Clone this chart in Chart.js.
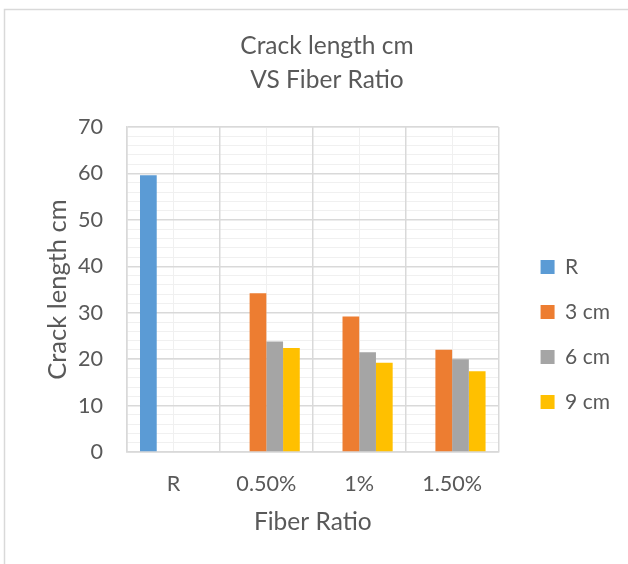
<!DOCTYPE html>
<html>
<head>
<meta charset="utf-8">
<title>Crack length cm VS Fiber Ratio</title>
<script src="https://cdn.jsdelivr.net/npm/chart.js@4.4.1/dist/chart.umd.min.js"></script>
<style>
  html, body { margin: 0; padding: 0; background: #ffffff; }
  #wrap { width: 628px; height: 564px; position: relative; }
  canvas { display: block; }
</style>
</head>
<body>
<div id="wrap"><canvas id="chart" width="628" height="564"></canvas></div>
<script>
// ---- data ----
const categories = ['R', '0.50%', '1%', '1.50%'];
const seriesNames = ['R', '3 cm', '6 cm', '9 cm'];
const valuesR    = [59.6, null, null, null];
const values3cm  = [null, 34.2, 29.2, 22.0];
const values6cm  = [null, 23.8, 21.5, 20.0];
const values9cm  = [null, 22.4, 19.2, 17.4];
const yTickValues = [0, 10, 20, 30, 40, 50, 60, 70];
const chartTitle = ['Crack length cm', 'VS Fiber Ratio'];
const yAxisTitle = 'Crack length cm';
const xAxisTitle = 'Fiber Ratio';

// ---- styling ----
const seriesColors = ['#5b9bd5', '#ed7d31', '#a5a5a5', '#ffc000'];
const FONT = 'Lato, "Open Sans", sans-serif';
const TEXT = '#595959';
const MAJOR = '#d9d9d9';
const MINOR = '#f0f0f0';
const TICK_SIZE = 21.6;
const LEGEND_SIZE = 21;
const TITLE_SIZE = 24.5;
const YTITLE_SIZE = 25.5;

const LEGEND_PAD = 24;
const LEGEND_BOX = 14;

// plot box edges
const PLOT_LEFT = 127, PLOT_RIGHT = 497, PLOT_TOP = 127, PLOT_BOTTOM = 452;
const W = 628, H = 564;
const GAP_RIGHT = 18;

// legend width is text dependent: measure the longest label
const mctx = document.createElement('canvas').getContext('2d');
mctx.font = LEGEND_SIZE + 'px ' + FONT;
const maxLabelW = Math.max(...seriesNames.map(s => mctx.measureText(s).width));
const legendWidth = LEGEND_PAD + LEGEND_BOX + LEGEND_SIZE / 2 + maxLabelW + 10 - 7;
const padRight = Math.max(0, W - PLOT_RIGHT - GAP_RIGHT - legendWidth);
const titleCenter = 327;
const padLeft = Math.max(0, 2 * titleCenter - (W - padRight));

const TITLE_PAD_TOP = 30;
const TITLE_LINE = 1.35;

const seriesValues = [valuesR, values3cm, values6cm, values9cm];

// thin frame around the chart
const framePlugin = {
  id: 'frame',
  beforeDraw(chart) {
    const ctx = chart.ctx;
    ctx.save();
    ctx.strokeStyle = '#d9d9d9';
    ctx.lineWidth = 1.5;
    ctx.beginPath();
    ctx.moveTo(4.5, H);
    ctx.lineTo(4.5, 9.5);
    ctx.lineTo(W, 9.5);
    ctx.stroke();
    ctx.restore();
  }
};

new Chart(document.getElementById('chart'), {
  type: 'bar',
  data: {
    labels: categories,
    datasets: seriesNames.map((name, i) => ({
      label: name,
      data: seriesValues[i],
      backgroundColor: seriesColors[i],
      borderWidth: 0,
      xAxisID: 'x',
      yAxisID: 'y',
      categoryPercentage: 0.72,
      barPercentage: 1.0
    }))
  },
  options: {
    responsive: false,
    animation: false,
    devicePixelRatio: 1,
    layout: { padding: { left: padLeft, right: padRight, top: 0, bottom: 0 } },
    plugins: {
      tooltip: { enabled: false },
      title: {
        display: true,
        text: chartTitle,
        color: TEXT,
        font: { family: FONT, size: TITLE_SIZE, weight: 'normal', lineHeight: TITLE_LINE },
        padding: { top: TITLE_PAD_TOP, bottom: 10 }
      },
      legend: {
        position: 'right',
        align: 'center',
        title: { display: true, text: '', font: { size: 12 }, padding: { top: 90.6, bottom: 0 } },
        labels: {
          color: TEXT,
          font: { family: FONT, size: LEGEND_SIZE },
          boxWidth: LEGEND_BOX,
          boxHeight: LEGEND_BOX,
          padding: LEGEND_PAD
        }
      }
    },
    scales: {
      xMinor: {
        type: 'category',
        position: 'top',
        labels: categories,
        offset: true,
        grid: { offset: false, color: MINOR, drawTicks: false, z: -2 },
        ticks: { display: false },
        border: { display: false },
        afterFit: s => { s.height = PLOT_TOP - (TITLE_PAD_TOP + 2 * TITLE_SIZE * TITLE_LINE + 10); }
      },
      yMinor: {
        type: 'linear',
        position: 'right',
        min: 0,
        max: 70,
        ticks: { display: false, stepSize: 2 },
        grid: { color: MINOR, drawTicks: false, z: -2 },
        border: { display: false },
        afterFit: s => { s.width = GAP_RIGHT; }
      },
      x: {
        type: 'category',
        position: 'bottom',
        offset: true,
        grid: { offset: true, color: MAJOR, drawTicks: false, lineWidth: 1.5 },
        border: { color: MAJOR, width: 1.5 },
        ticks: { color: TEXT, font: { family: FONT, size: TICK_SIZE }, padding: 19, maxRotation: 0 },
        title: {
          display: true, text: xAxisTitle, color: TEXT,
          font: { family: FONT, size: TITLE_SIZE },
          padding: { top: 0, bottom: 27 }
        },
        afterFit: s => { s.height = H - PLOT_BOTTOM; }
      },
      y: {
        type: 'linear',
        position: 'left',
        min: 0,
        max: 70,
        afterBuildTicks: s => { s.ticks = yTickValues.map(v => ({ value: v })); },
        grid: { color: MAJOR, drawTicks: false, lineWidth: 1.5 },
        border: { color: MAJOR, width: 1.5 },
        ticks: { color: TEXT, font: { family: FONT, size: TICK_SIZE }, padding: 24 },
        title: {
          display: true, text: yAxisTitle, color: TEXT,
          font: { family: FONT, size: YTITLE_SIZE },
          padding: { top: Math.max(0, 56 - padLeft - YTITLE_SIZE * 0.6), bottom: 0 }
        },
        afterFit: s => { s.width = PLOT_LEFT - padLeft; }
      }
    }
  },
  plugins: [framePlugin]
});
</script>
</body>
</html>
